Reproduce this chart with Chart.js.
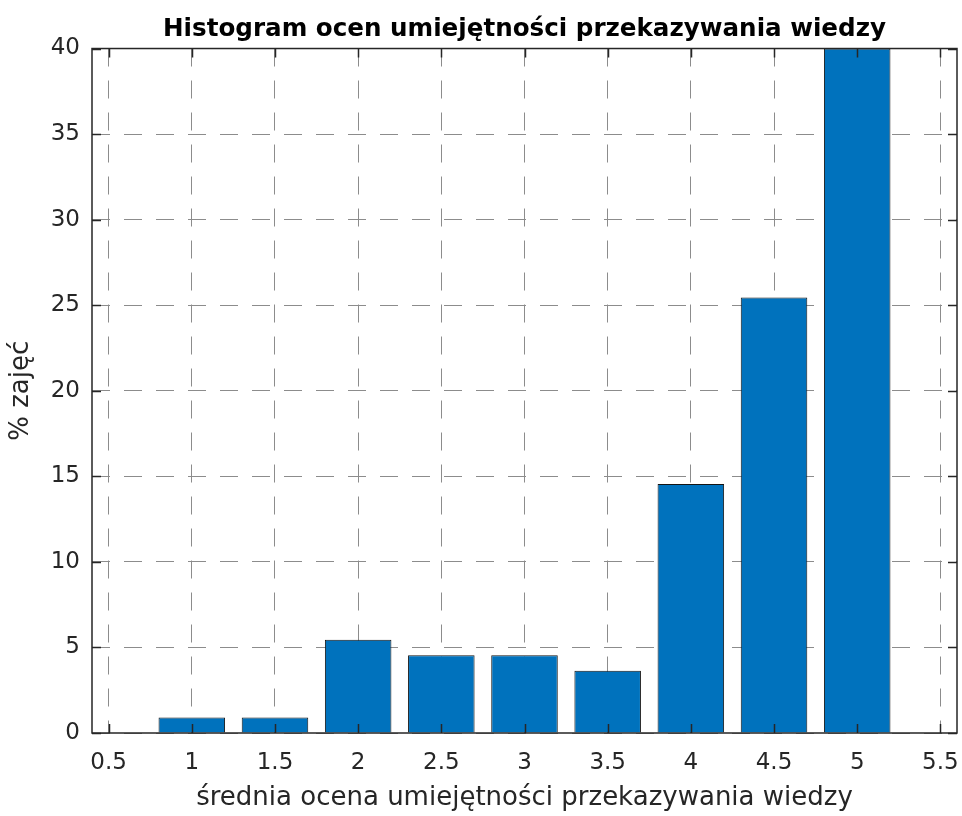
<!DOCTYPE html>
<html>
<head>
<meta charset="utf-8">
<script src="https://cdn.jsdelivr.net/npm/chart.js@4.4.1/dist/chart.umd.min.js"></script>
<style>
    html, body { margin: 0; padding: 0; background: #fff; }
    #wrap { width: 962px; height: 816px; position: relative; }
</style>
</head>
<body>
<div id="wrap"><canvas id="histChart"></canvas></div>
<script>
// ----- data -----
const binCenters = [1, 1.5, 2, 2.5, 3, 3.5, 4, 4.5, 5];
const percentValues = [0.91, 0.91, 5.45, 4.55, 4.55, 3.64, 14.55, 25.45, 40.0];
const xTicks = [0.5, 1, 1.5, 2, 2.5, 3, 3.5, 4, 4.5, 5, 5.5];
const yTicks = [0, 5, 10, 15, 20, 25, 30, 35, 40];

const TITLE = "Histogram ocen umiejętności przekazywania wiedzy";
const X_LABEL = "średnia ocena umiejętności przekazywania wiedzy";
const Y_LABEL = "% zajęć";

const AXIS_COLOR = "#262626";
const GRID_COLOR = "#8c8c8c";
const FONT = "'DejaVu Sans', 'Liberation Sans', sans-serif";

// MATLAB-style box with ticks pointing inward on all four sides
const boxPlugin = {
    id: "matlabBox",
    afterDatasetsDraw(chart) {
        const { ctx, chartArea: a, scales } = chart;
        const len = 9;
        ctx.save();
        ctx.strokeStyle = AXIS_COLOR;
        ctx.lineWidth = 1.5;
        ctx.beginPath();
        scales.x.ticks.forEach(t => {
            const px = Math.round(scales.x.getPixelForValue(t.value)) + 0.5;
            ctx.moveTo(px, a.bottom); ctx.lineTo(px, a.bottom - len);
            ctx.moveTo(px, a.top); ctx.lineTo(px, a.top + len);
        });
        scales.y.ticks.forEach(t => {
            const py = Math.round(scales.y.getPixelForValue(t.value)) + 0.5;
            ctx.moveTo(a.left, py); ctx.lineTo(a.left + len, py);
            ctx.moveTo(a.right, py); ctx.lineTo(a.right - len, py);
        });
        ctx.stroke();
        ctx.strokeRect(a.left, a.top, a.right - a.left, a.bottom - a.top);
        ctx.restore();
    }
};

new Chart(document.getElementById("histChart"), {
    type: "bar",
    data: {
        datasets: [{
            data: binCenters.map((x, i) => ({ x: x, y: percentValues[i] })),
            backgroundColor: "#0072BD",
            borderColor: "#141414",
            borderWidth: 1,
            barPercentage: 0.8,
            categoryPercentage: 1.0
        }]
    },
    options: {
        responsive: true,
        maintainAspectRatio: false,
        animation: false,
        layout: { padding: { left: 0, right: 5, top: 0, bottom: 0 } },
        plugins: {
            legend: { display: false },
            tooltip: { enabled: false },
            title: {
                display: true,
                fullSize: false,   // center over the plot area, like MATLAB
                text: TITLE,
                color: "#000",
                font: { family: FONT, size: 24.6, weight: "bold" },
                padding: { top: 15, bottom: 4 }
            }
        },
        scales: {
            x: {
                type: "linear",
                min: 0.4,
                max: 5.6,
                offset: false,
                afterBuildTicks: s => { s.ticks = xTicks.map(v => ({ value: v })); },
                afterFit: s => {
                    s.height = 83;
                    // let the "5.5" label hang past the plot edge instead of shrinking it
                    s.paddingLeft = 0;
                    s.paddingRight = 0;
                },
                border: { display: false, dash: [18, 14] },
                grid: {
                    offset: false,
                    drawTicks: false,
                    color: GRID_COLOR,
                    lineWidth: 1
                },
                ticks: {
                    padding: 16,
                    color: AXIS_COLOR,
                    font: { family: FONT, size: 23 },
                    callback: v => String(v),
                    maxRotation: 0,
                    autoSkip: false
                },
                title: {
                    display: true,
                    text: X_LABEL,
                    color: AXIS_COLOR,
                    font: { family: FONT, size: 26 },
                    padding: { top: 0, bottom: 2 }
                }
            },
            y: {
                min: 0,
                max: 40,
                afterBuildTicks: s => { s.ticks = yTicks.map(v => ({ value: v })); },
                afterFit: s => { s.width = 92; },
                border: { display: false, dash: [18, 14] },
                grid: {
                    drawTicks: false,
                    color: GRID_COLOR,
                    lineWidth: 1
                },
                ticks: {
                    padding: 12,
                    color: AXIS_COLOR,
                    font: { family: FONT, size: 23 },
                    callback: v => String(v)
                },
                title: {
                    display: true,
                    text: Y_LABEL,
                    color: AXIS_COLOR,
                    font: { family: FONT, size: 26 },
                    padding: { top: 6, bottom: 0 }
                }
            }
        }
    },
    plugins: [boxPlugin]
});
</script>
</body>
</html>
